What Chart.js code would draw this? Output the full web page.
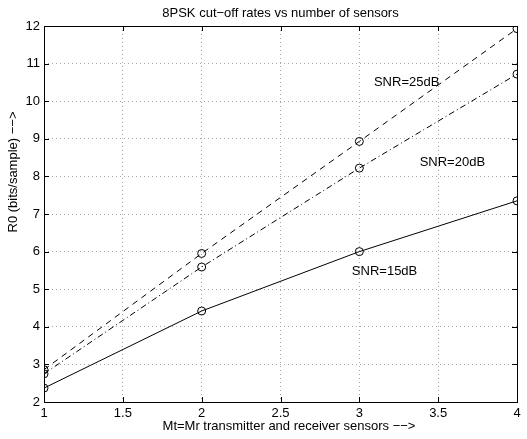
<!DOCTYPE html>
<html>
<head>
<meta charset="utf-8">
<script src="https://cdn.jsdelivr.net/npm/chart.js@4.4.1/dist/chart.umd.min.js"></script>
<style>
  html, body { margin: 0; padding: 0; background: #fff; }
  canvas { display: block; }
</style>
</head>
<body>
<canvas id="chart" width="527" height="439"></canvas>
<script>
// sensors (Mt = Mr)
var sensors = [1, 2, 3, 4];
// R0 cut-off rates
var snr15 = [2.37, 4.42, 6.0, 7.35];
var snr20 = [2.75, 5.59, 8.22, 10.72];
var snr25 = [2.86, 5.95, 8.93, 11.93];

var titleText = '8PSK cut\u2212off rates vs number of sensors';
var xTitle = 'Mt=Mr transmitter and receiver sensors \u2212\u2212>';
var yTitle = 'R0 (bits/sample) \u2212\u2212>';

// curve labels, in data coordinates
var curveLabels = [
  { text: 'SNR=25dB', x: 3.30, y: 10.51 },
  { text: 'SNR=20dB', x: 3.59, y: 8.38 },
  { text: 'SNR=15dB', x: 3.16, y: 5.46 }
];

var FONT = '13px "Liberation Sans", Arial, Helvetica, sans-serif';

function series(vals) {
  return vals.map(function (v, i) { return { x: sensors[i], y: v }; });
}

var framePlugin = {
  id: 'frame',
  afterDraw: function (chart) {
    var ctx = chart.ctx;
    var a = chart.chartArea;
    var xs = chart.scales.x, ys = chart.scales.y;
    ctx.save();
    ctx.strokeStyle = '#000';
    ctx.lineWidth = 1;
    ctx.setLineDash([]);
    ctx.strokeRect(Math.round(a.left) + 0.5, Math.round(a.top) + 0.5,
      Math.round(a.right - a.left), Math.round(a.bottom - a.top));
    ctx.beginPath();
    xs.ticks.forEach(function (t) {
      var px = Math.round(xs.getPixelForValue(t.value)) + 0.5;
      ctx.moveTo(px, a.bottom); ctx.lineTo(px, a.bottom - 5);
      ctx.moveTo(px, a.top); ctx.lineTo(px, a.top + 5);
    });
    ys.ticks.forEach(function (t) {
      var py = Math.round(ys.getPixelForValue(t.value)) + 0.5;
      ctx.moveTo(a.left, py); ctx.lineTo(a.left + 5, py);
      ctx.moveTo(a.right, py); ctx.lineTo(a.right - 5, py);
    });
    ctx.stroke();

    ctx.fillStyle = '#000';
    ctx.font = FONT;
    ctx.textAlign = 'center';
    ctx.textBaseline = 'middle';
    curveLabels.forEach(function (l) {
      ctx.fillText(l.text, xs.getPixelForValue(l.x), ys.getPixelForValue(l.y));
    });

    ctx.fillText(titleText, (a.left + a.right) / 2, 13);
    ctx.fillText(xTitle, 289, 426);
    ctx.translate(13, 172);
    ctx.rotate(-Math.PI / 2);
    ctx.fillText(yTitle, 0, 0);
    ctx.restore();
  }
};

new Chart(document.getElementById('chart'), {
  type: 'scatter',
  data: {
    datasets: [
      { label: 'SNR=15dB', data: series(snr15), showLine: true, borderColor: '#000',
        borderWidth: 1, pointRadius: 4, pointBorderColor: '#000', pointBackgroundColor: 'rgba(0,0,0,0)',
        pointBorderWidth: 1 },
      { label: 'SNR=20dB', data: series(snr20), showLine: true, borderColor: '#000',
        borderWidth: 1, borderDash: [6, 3, 1, 3], pointRadius: 4, pointBorderColor: '#000',
        pointBackgroundColor: 'rgba(0,0,0,0)', pointBorderWidth: 1 },
      { label: 'SNR=25dB', data: series(snr25), showLine: true, borderColor: '#000',
        borderWidth: 1, borderDash: [6, 5], pointRadius: 4, pointBorderColor: '#000',
        pointBackgroundColor: 'rgba(0,0,0,0)', pointBorderWidth: 1 }
    ]
  },
  options: {
    responsive: false,
    devicePixelRatio: 1,
    animation: false,
    layout: { padding: { left: 0, right: 10, top: 26, bottom: 0 } },
    plugins: { legend: { display: false }, tooltip: { enabled: false }, title: { display: false } },
    elements: { line: { tension: 0 } },
    scales: {
      x: {
        type: 'linear', min: 1, max: 4,
        afterFit: function (s) { s.height = 37; },
        ticks: { stepSize: 0.5, color: '#000', padding: 4, maxRotation: 0,
          callback: function (v) { return String(v); },
          font: { family: '"Liberation Sans", Arial, sans-serif', size: 13 } },
        grid: { color: '#a8a8a8', drawTicks: false },
        border: { display: false, dash: [1, 3] }
      },
      y: {
        type: 'linear', min: 2, max: 12,
        afterFit: function (s) { s.width = 44; },
        ticks: { stepSize: 1, color: '#000', padding: 4,
          callback: function (v) { return String(v); },
          font: { family: '"Liberation Sans", Arial, sans-serif', size: 13 } },
        grid: { color: '#a8a8a8', drawTicks: false },
        border: { display: false, dash: [1, 3] }
      }
    }
  },
  plugins: [framePlugin]
});
</script>
</body>
</html>
